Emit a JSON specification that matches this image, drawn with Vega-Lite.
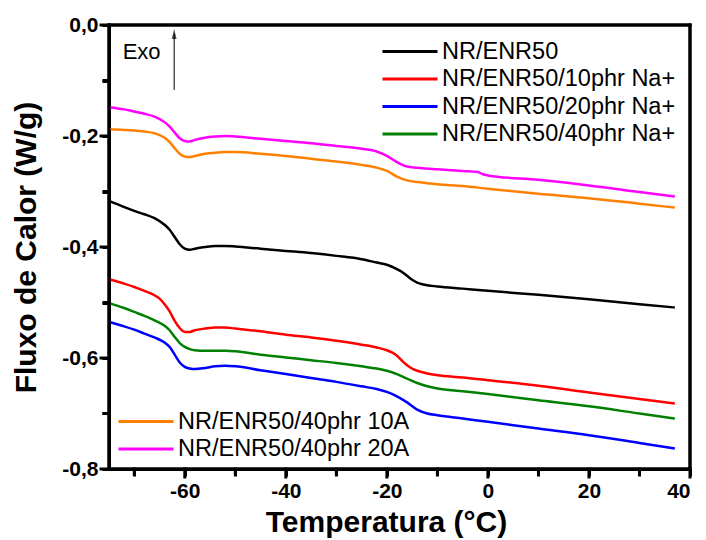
{
  "$schema": "https://vega.github.io/schema/vega-lite/v6.json",
  "width": 581,
  "height": 444,
  "autosize": {"type": "none"},
  "padding": {"left": 109, "top": 25, "right": 16, "bottom": 71},
  "config": {
    "view": {"stroke": "black", "strokeWidth": 3},
    "font": "Liberation Sans",
    "axis": {
      "grid": false,
      "domainColor": "black",
      "domainWidth": 3,
      "tickColor": "black",
      "tickWidth": 3,
      "tickSize": 7,
      "labelColor": "black",
      "titleColor": "black",
      "labelFont": "Liberation Sans",
      "labelFontWeight": "bold",
      "labelFontSize": 21,
      "titleFont": "Liberation Sans",
      "titleFontWeight": "bold",
      "titleFontSize": 30
    },
    "legend": {
      "title": null,
      "symbolType": "M-1,0H4",
      "symbolStrokeWidth": 3,
      "symbolSize": 484,
      "labelFont": "Liberation Sans",
      "labelFontSize": 23.5,
      "labelColor": "black",
      "labelOffset": 36,
      "labelLimit": 400,
      "rowPadding": 3.5,
      "padding": 0
    }
  },
  "datasets": {
    "a": [
      {"s": "NR/ENR50", "t": -75, "q": -0.317},
      {"s": "NR/ENR50", "t": -72, "q": -0.328},
      {"s": "NR/ENR50", "t": -70, "q": -0.335},
      {"s": "NR/ENR50", "t": -68, "q": -0.341},
      {"s": "NR/ENR50", "t": -66, "q": -0.348},
      {"s": "NR/ENR50", "t": -64, "q": -0.36},
      {"s": "NR/ENR50", "t": -63, "q": -0.369},
      {"s": "NR/ENR50", "t": -62, "q": -0.382},
      {"s": "NR/ENR50", "t": -61, "q": -0.395},
      {"s": "NR/ENR50", "t": -60, "q": -0.403},
      {"s": "NR/ENR50", "t": -59, "q": -0.405},
      {"s": "NR/ENR50", "t": -58, "q": -0.403},
      {"s": "NR/ENR50", "t": -56, "q": -0.4},
      {"s": "NR/ENR50", "t": -54, "q": -0.398},
      {"s": "NR/ENR50", "t": -52, "q": -0.398},
      {"s": "NR/ENR50", "t": -50, "q": -0.399},
      {"s": "NR/ENR50", "t": -45, "q": -0.403},
      {"s": "NR/ENR50", "t": -40, "q": -0.407},
      {"s": "NR/ENR50", "t": -35, "q": -0.411},
      {"s": "NR/ENR50", "t": -30, "q": -0.416},
      {"s": "NR/ENR50", "t": -25, "q": -0.422},
      {"s": "NR/ENR50", "t": -22, "q": -0.428},
      {"s": "NR/ENR50", "t": -20, "q": -0.432},
      {"s": "NR/ENR50", "t": -18, "q": -0.44},
      {"s": "NR/ENR50", "t": -17, "q": -0.445},
      {"s": "NR/ENR50", "t": -16, "q": -0.452},
      {"s": "NR/ENR50", "t": -15, "q": -0.459},
      {"s": "NR/ENR50", "t": -14, "q": -0.464},
      {"s": "NR/ENR50", "t": -13, "q": -0.467},
      {"s": "NR/ENR50", "t": -12, "q": -0.469},
      {"s": "NR/ENR50", "t": -10, "q": -0.471},
      {"s": "NR/ENR50", "t": -5, "q": -0.475},
      {"s": "NR/ENR50", "t": 0, "q": -0.479},
      {"s": "NR/ENR50", "t": 10, "q": -0.486},
      {"s": "NR/ENR50", "t": 20, "q": -0.494},
      {"s": "NR/ENR50", "t": 30, "q": -0.503},
      {"s": "NR/ENR50", "t": 37, "q": -0.509},

      {"s": "NR/ENR50/10phr Na+", "t": -75, "q": -0.458},
      {"s": "NR/ENR50/10phr Na+", "t": -72, "q": -0.466},
      {"s": "NR/ENR50/10phr Na+", "t": -70, "q": -0.472},
      {"s": "NR/ENR50/10phr Na+", "t": -68, "q": -0.479},
      {"s": "NR/ENR50/10phr Na+", "t": -66, "q": -0.487},
      {"s": "NR/ENR50/10phr Na+", "t": -65, "q": -0.493},
      {"s": "NR/ENR50/10phr Na+", "t": -64, "q": -0.503},
      {"s": "NR/ENR50/10phr Na+", "t": -63, "q": -0.516},
      {"s": "NR/ENR50/10phr Na+", "t": -62, "q": -0.533},
      {"s": "NR/ENR50/10phr Na+", "t": -61, "q": -0.546},
      {"s": "NR/ENR50/10phr Na+", "t": -60, "q": -0.553},
      {"s": "NR/ENR50/10phr Na+", "t": -59, "q": -0.553},
      {"s": "NR/ENR50/10phr Na+", "t": -58, "q": -0.55},
      {"s": "NR/ENR50/10phr Na+", "t": -56, "q": -0.547},
      {"s": "NR/ENR50/10phr Na+", "t": -54, "q": -0.545},
      {"s": "NR/ENR50/10phr Na+", "t": -52, "q": -0.545},
      {"s": "NR/ENR50/10phr Na+", "t": -50, "q": -0.547},
      {"s": "NR/ENR50/10phr Na+", "t": -45, "q": -0.552},
      {"s": "NR/ENR50/10phr Na+", "t": -40, "q": -0.558},
      {"s": "NR/ENR50/10phr Na+", "t": -35, "q": -0.563},
      {"s": "NR/ENR50/10phr Na+", "t": -30, "q": -0.569},
      {"s": "NR/ENR50/10phr Na+", "t": -25, "q": -0.576},
      {"s": "NR/ENR50/10phr Na+", "t": -22, "q": -0.581},
      {"s": "NR/ENR50/10phr Na+", "t": -20, "q": -0.586},
      {"s": "NR/ENR50/10phr Na+", "t": -19, "q": -0.59},
      {"s": "NR/ENR50/10phr Na+", "t": -18, "q": -0.596},
      {"s": "NR/ENR50/10phr Na+", "t": -17, "q": -0.605},
      {"s": "NR/ENR50/10phr Na+", "t": -16, "q": -0.613},
      {"s": "NR/ENR50/10phr Na+", "t": -15, "q": -0.619},
      {"s": "NR/ENR50/10phr Na+", "t": -14, "q": -0.623},
      {"s": "NR/ENR50/10phr Na+", "t": -12, "q": -0.628},
      {"s": "NR/ENR50/10phr Na+", "t": -10, "q": -0.631},
      {"s": "NR/ENR50/10phr Na+", "t": -5, "q": -0.635},
      {"s": "NR/ENR50/10phr Na+", "t": 0, "q": -0.64},
      {"s": "NR/ENR50/10phr Na+", "t": 10, "q": -0.65},
      {"s": "NR/ENR50/10phr Na+", "t": 20, "q": -0.662},
      {"s": "NR/ENR50/10phr Na+", "t": 30, "q": -0.674},
      {"s": "NR/ENR50/10phr Na+", "t": 37, "q": -0.682},

      {"s": "NR/ENR50/20phr Na+", "t": -75, "q": -0.535},
      {"s": "NR/ENR50/20phr Na+", "t": -72, "q": -0.543},
      {"s": "NR/ENR50/20phr Na+", "t": -70, "q": -0.549},
      {"s": "NR/ENR50/20phr Na+", "t": -68, "q": -0.556},
      {"s": "NR/ENR50/20phr Na+", "t": -66, "q": -0.563},
      {"s": "NR/ENR50/20phr Na+", "t": -64, "q": -0.572},
      {"s": "NR/ENR50/20phr Na+", "t": -63, "q": -0.58},
      {"s": "NR/ENR50/20phr Na+", "t": -62, "q": -0.594},
      {"s": "NR/ENR50/20phr Na+", "t": -61, "q": -0.608},
      {"s": "NR/ENR50/20phr Na+", "t": -60, "q": -0.616},
      {"s": "NR/ENR50/20phr Na+", "t": -59, "q": -0.619},
      {"s": "NR/ENR50/20phr Na+", "t": -58, "q": -0.62},
      {"s": "NR/ENR50/20phr Na+", "t": -56, "q": -0.618},
      {"s": "NR/ENR50/20phr Na+", "t": -54, "q": -0.615},
      {"s": "NR/ENR50/20phr Na+", "t": -52, "q": -0.614},
      {"s": "NR/ENR50/20phr Na+", "t": -50, "q": -0.615},
      {"s": "NR/ENR50/20phr Na+", "t": -45, "q": -0.622},
      {"s": "NR/ENR50/20phr Na+", "t": -40, "q": -0.629},
      {"s": "NR/ENR50/20phr Na+", "t": -35, "q": -0.636},
      {"s": "NR/ENR50/20phr Na+", "t": -30, "q": -0.643},
      {"s": "NR/ENR50/20phr Na+", "t": -25, "q": -0.651},
      {"s": "NR/ENR50/20phr Na+", "t": -22, "q": -0.656},
      {"s": "NR/ENR50/20phr Na+", "t": -20, "q": -0.661},
      {"s": "NR/ENR50/20phr Na+", "t": -18, "q": -0.669},
      {"s": "NR/ENR50/20phr Na+", "t": -16, "q": -0.68},
      {"s": "NR/ENR50/20phr Na+", "t": -14, "q": -0.693},
      {"s": "NR/ENR50/20phr Na+", "t": -12, "q": -0.7},
      {"s": "NR/ENR50/20phr Na+", "t": -10, "q": -0.703},
      {"s": "NR/ENR50/20phr Na+", "t": -5, "q": -0.709},
      {"s": "NR/ENR50/20phr Na+", "t": 0, "q": -0.715},
      {"s": "NR/ENR50/20phr Na+", "t": 10, "q": -0.727},
      {"s": "NR/ENR50/20phr Na+", "t": 20, "q": -0.739},
      {"s": "NR/ENR50/20phr Na+", "t": 30, "q": -0.753},
      {"s": "NR/ENR50/20phr Na+", "t": 37, "q": -0.763},

      {"s": "NR/ENR50/40phr Na+", "t": -75, "q": -0.501},
      {"s": "NR/ENR50/40phr Na+", "t": -72, "q": -0.51},
      {"s": "NR/ENR50/40phr Na+", "t": -70, "q": -0.517},
      {"s": "NR/ENR50/40phr Na+", "t": -68, "q": -0.524},
      {"s": "NR/ENR50/40phr Na+", "t": -66, "q": -0.532},
      {"s": "NR/ENR50/40phr Na+", "t": -64, "q": -0.542},
      {"s": "NR/ENR50/40phr Na+", "t": -63, "q": -0.55},
      {"s": "NR/ENR50/40phr Na+", "t": -62, "q": -0.562},
      {"s": "NR/ENR50/40phr Na+", "t": -61, "q": -0.573},
      {"s": "NR/ENR50/40phr Na+", "t": -60, "q": -0.58},
      {"s": "NR/ENR50/40phr Na+", "t": -59, "q": -0.584},
      {"s": "NR/ENR50/40phr Na+", "t": -58, "q": -0.586},
      {"s": "NR/ENR50/40phr Na+", "t": -56, "q": -0.587},
      {"s": "NR/ENR50/40phr Na+", "t": -54, "q": -0.587},
      {"s": "NR/ENR50/40phr Na+", "t": -52, "q": -0.587},
      {"s": "NR/ENR50/40phr Na+", "t": -50, "q": -0.588},
      {"s": "NR/ENR50/40phr Na+", "t": -45, "q": -0.594},
      {"s": "NR/ENR50/40phr Na+", "t": -40, "q": -0.599},
      {"s": "NR/ENR50/40phr Na+", "t": -35, "q": -0.604},
      {"s": "NR/ENR50/40phr Na+", "t": -30, "q": -0.609},
      {"s": "NR/ENR50/40phr Na+", "t": -25, "q": -0.615},
      {"s": "NR/ENR50/40phr Na+", "t": -22, "q": -0.619},
      {"s": "NR/ENR50/40phr Na+", "t": -20, "q": -0.623},
      {"s": "NR/ENR50/40phr Na+", "t": -18, "q": -0.629},
      {"s": "NR/ENR50/40phr Na+", "t": -16, "q": -0.637},
      {"s": "NR/ENR50/40phr Na+", "t": -14, "q": -0.645},
      {"s": "NR/ENR50/40phr Na+", "t": -12, "q": -0.651},
      {"s": "NR/ENR50/40phr Na+", "t": -10, "q": -0.655},
      {"s": "NR/ENR50/40phr Na+", "t": -5, "q": -0.66},
      {"s": "NR/ENR50/40phr Na+", "t": 0, "q": -0.665},
      {"s": "NR/ENR50/40phr Na+", "t": 10, "q": -0.676},
      {"s": "NR/ENR50/40phr Na+", "t": 20, "q": -0.687},
      {"s": "NR/ENR50/40phr Na+", "t": 30, "q": -0.7},
      {"s": "NR/ENR50/40phr Na+", "t": 37, "q": -0.709}
    ],
    "b": [
      {"s": "NR/ENR50/40phr 10A", "t": -75, "q": -0.188},
      {"s": "NR/ENR50/40phr 10A", "t": -72, "q": -0.189},
      {"s": "NR/ENR50/40phr 10A", "t": -70, "q": -0.19},
      {"s": "NR/ENR50/40phr 10A", "t": -68, "q": -0.192},
      {"s": "NR/ENR50/40phr 10A", "t": -66, "q": -0.195},
      {"s": "NR/ENR50/40phr 10A", "t": -64, "q": -0.203},
      {"s": "NR/ENR50/40phr 10A", "t": -63, "q": -0.211},
      {"s": "NR/ENR50/40phr 10A", "t": -62, "q": -0.222},
      {"s": "NR/ENR50/40phr 10A", "t": -61, "q": -0.232},
      {"s": "NR/ENR50/40phr 10A", "t": -60, "q": -0.237},
      {"s": "NR/ENR50/40phr 10A", "t": -59, "q": -0.238},
      {"s": "NR/ENR50/40phr 10A", "t": -58, "q": -0.236},
      {"s": "NR/ENR50/40phr 10A", "t": -56, "q": -0.232},
      {"s": "NR/ENR50/40phr 10A", "t": -54, "q": -0.23},
      {"s": "NR/ENR50/40phr 10A", "t": -52, "q": -0.229},
      {"s": "NR/ENR50/40phr 10A", "t": -50, "q": -0.229},
      {"s": "NR/ENR50/40phr 10A", "t": -45, "q": -0.232},
      {"s": "NR/ENR50/40phr 10A", "t": -40, "q": -0.236},
      {"s": "NR/ENR50/40phr 10A", "t": -35, "q": -0.241},
      {"s": "NR/ENR50/40phr 10A", "t": -30, "q": -0.246},
      {"s": "NR/ENR50/40phr 10A", "t": -25, "q": -0.252},
      {"s": "NR/ENR50/40phr 10A", "t": -22, "q": -0.257},
      {"s": "NR/ENR50/40phr 10A", "t": -20, "q": -0.263},
      {"s": "NR/ENR50/40phr 10A", "t": -18, "q": -0.273},
      {"s": "NR/ENR50/40phr 10A", "t": -16, "q": -0.28},
      {"s": "NR/ENR50/40phr 10A", "t": -14, "q": -0.283},
      {"s": "NR/ENR50/40phr 10A", "t": -12, "q": -0.285},
      {"s": "NR/ENR50/40phr 10A", "t": -10, "q": -0.287},
      {"s": "NR/ENR50/40phr 10A", "t": -5, "q": -0.29},
      {"s": "NR/ENR50/40phr 10A", "t": 0, "q": -0.295},
      {"s": "NR/ENR50/40phr 10A", "t": 10, "q": -0.304},
      {"s": "NR/ENR50/40phr 10A", "t": 20, "q": -0.312},
      {"s": "NR/ENR50/40phr 10A", "t": 30, "q": -0.322},
      {"s": "NR/ENR50/40phr 10A", "t": 37, "q": -0.329},

      {"s": "NR/ENR50/40phr 20A", "t": -75, "q": -0.148},
      {"s": "NR/ENR50/40phr 20A", "t": -72, "q": -0.152},
      {"s": "NR/ENR50/40phr 20A", "t": -70, "q": -0.156},
      {"s": "NR/ENR50/40phr 20A", "t": -68, "q": -0.16},
      {"s": "NR/ENR50/40phr 20A", "t": -66, "q": -0.165},
      {"s": "NR/ENR50/40phr 20A", "t": -64, "q": -0.175},
      {"s": "NR/ENR50/40phr 20A", "t": -63, "q": -0.183},
      {"s": "NR/ENR50/40phr 20A", "t": -62, "q": -0.194},
      {"s": "NR/ENR50/40phr 20A", "t": -61, "q": -0.204},
      {"s": "NR/ENR50/40phr 20A", "t": -60, "q": -0.209},
      {"s": "NR/ENR50/40phr 20A", "t": -59, "q": -0.21},
      {"s": "NR/ENR50/40phr 20A", "t": -58, "q": -0.207},
      {"s": "NR/ENR50/40phr 20A", "t": -56, "q": -0.203},
      {"s": "NR/ENR50/40phr 20A", "t": -54, "q": -0.201},
      {"s": "NR/ENR50/40phr 20A", "t": -52, "q": -0.2},
      {"s": "NR/ENR50/40phr 20A", "t": -50, "q": -0.201},
      {"s": "NR/ENR50/40phr 20A", "t": -45, "q": -0.205},
      {"s": "NR/ENR50/40phr 20A", "t": -40, "q": -0.209},
      {"s": "NR/ENR50/40phr 20A", "t": -35, "q": -0.213},
      {"s": "NR/ENR50/40phr 20A", "t": -30, "q": -0.218},
      {"s": "NR/ENR50/40phr 20A", "t": -25, "q": -0.223},
      {"s": "NR/ENR50/40phr 20A", "t": -22, "q": -0.228},
      {"s": "NR/ENR50/40phr 20A", "t": -20, "q": -0.236},
      {"s": "NR/ENR50/40phr 20A", "t": -18, "q": -0.247},
      {"s": "NR/ENR50/40phr 20A", "t": -16, "q": -0.255},
      {"s": "NR/ENR50/40phr 20A", "t": -14, "q": -0.257},
      {"s": "NR/ENR50/40phr 20A", "t": -10, "q": -0.26},
      {"s": "NR/ENR50/40phr 20A", "t": -5, "q": -0.263},
      {"s": "NR/ENR50/40phr 20A", "t": -2, "q": -0.265},
      {"s": "NR/ENR50/40phr 20A", "t": -1, "q": -0.269},
      {"s": "NR/ENR50/40phr 20A", "t": 0, "q": -0.271},
      {"s": "NR/ENR50/40phr 20A", "t": 10, "q": -0.279},
      {"s": "NR/ENR50/40phr 20A", "t": 20, "q": -0.289},
      {"s": "NR/ENR50/40phr 20A", "t": 30, "q": -0.301},
      {"s": "NR/ENR50/40phr 20A", "t": 37, "q": -0.309}
    ],
    "exo": [{"t": -72.3, "q": -0.062, "label": "Exo"}],
    "arrow": [{"t": -62.1, "q": -0.117, "q2": -0.016}],
    "head": [{"t": -62.1, "q": -0.016}],
    "frame": [
      {"t": -75, "q": -0.8, "t2": -75, "q2": 0},
      {"t": 40, "q": -0.8, "t2": 40, "q2": 0},
      {"t": -75, "q": 0, "t2": 40, "q2": 0},
      {"t": -75, "q": -0.8, "t2": 40, "q2": -0.8},
      {"t": -70, "q": -0.8, "t2": -70, "q2": -0.809},
      {"t": -60, "q": -0.8, "t2": -60, "q2": -0.8144},
      {"t": -50, "q": -0.8, "t2": -50, "q2": -0.809},
      {"t": -40, "q": -0.8, "t2": -40, "q2": -0.8144},
      {"t": -30, "q": -0.8, "t2": -30, "q2": -0.809},
      {"t": -20, "q": -0.8, "t2": -20, "q2": -0.8144},
      {"t": -10, "q": -0.8, "t2": -10, "q2": -0.809},
      {"t": 0, "q": -0.8, "t2": 0, "q2": -0.8144},
      {"t": 10, "q": -0.8, "t2": 10, "q2": -0.809},
      {"t": 20, "q": -0.8, "t2": 20, "q2": -0.8144},
      {"t": 30, "q": -0.8, "t2": 30, "q2": -0.809},
      {"t": 40, "q": -0.8, "t2": 40, "q2": -0.8144},
      {"t": -75, "q": -0.8, "t2": -76.58, "q2": -0.8},
      {"t": -75, "q": -0.7, "t2": -75.99, "q2": -0.7},
      {"t": -75, "q": -0.6, "t2": -76.58, "q2": -0.6},
      {"t": -75, "q": -0.5, "t2": -75.99, "q2": -0.5},
      {"t": -75, "q": -0.4, "t2": -76.58, "q2": -0.4},
      {"t": -75, "q": -0.3, "t2": -75.99, "q2": -0.3},
      {"t": -75, "q": -0.2, "t2": -76.58, "q2": -0.2},
      {"t": -75, "q": -0.1, "t2": -75.99, "q2": -0.1},
      {"t": -75, "q": 0, "t2": -76.58, "q2": 0}
    ]
  },
  "layer": [
    {
      "data": {"name": "a"},
      "mark": {"type": "line", "strokeWidth": 2.5, "interpolate": "monotone"},
      "encoding": {
        "x": {
          "field": "t", "type": "quantitative",
          "scale": {"domain": [-75, 40], "nice": false, "zero": false},
          "axis": {
            "title": "Temperatura (°C)",
            "titleX": 277,
            "values": [-70, -60, -50, -40, -30, -20, -10, 0, 10, 20, 30, 40],
            "labelExpr": "round(datum.value/10)%2==0 ? toString(datum.value) : ''",
            "labelPadding": 4,
            "titlePadding": 6
          }
        },
        "y": {
          "field": "q", "type": "quantitative",
          "scale": {"domain": [-0.8, 0], "nice": false, "zero": false},
          "axis": {
            "title": "Fluxo de Calor (W/g)",
            "values": [-0.8, -0.7, -0.6, -0.5, -0.4, -0.3, -0.2, -0.1, 0],
            "labelExpr": "round(datum.value*10)%2==0 ? ((datum.value < -0.001 ? '-' : '') + replace(format(abs(datum.value), '.1f'), '.', ',')) : ''",
            "labelPadding": 4,
            "titlePadding": 20
          }
        },
        "color": {
          "field": "s", "type": "nominal",
          "scale": {
            "domain": ["NR/ENR50", "NR/ENR50/10phr Na+", "NR/ENR50/20phr Na+", "NR/ENR50/40phr Na+"],
            "range": ["black", "red", "blue", "green"]
          },
          "legend": {"orient": "top-right", "offset": 14}
        }
      }
    },
    {
      "data": {"name": "b"},
      "mark": {"type": "line", "strokeWidth": 2.5, "interpolate": "monotone"},
      "encoding": {
        "x": {"field": "t", "type": "quantitative"},
        "y": {"field": "q", "type": "quantitative"},
        "color": {
          "field": "s", "type": "nominal",
          "scale": {
            "domain": ["NR/ENR50/40phr 10A", "NR/ENR50/40phr 20A"],
            "range": ["#ff8000", "#ff00ff"]
          },
          "legend": {"orient": "bottom-left", "offset": 8}
        }
      }
    },
    {
      "data": {"name": "exo"},
      "mark": {"type": "text", "align": "left", "baseline": "alphabetic", "fontSize": 22, "font": "Liberation Sans", "color": "black"},
      "encoding": {
        "x": {"field": "t", "type": "quantitative"},
        "y": {"field": "q", "type": "quantitative"},
        "text": {"field": "label"}
      }
    },
    {
      "data": {"name": "arrow"},
      "mark": {"type": "rule", "color": "black", "strokeWidth": 1},
      "encoding": {
        "x": {"field": "t", "type": "quantitative"},
        "y": {"field": "q", "type": "quantitative"},
        "y2": {"field": "q2"}
      }
    },
    {
      "data": {"name": "head"},
      "mark": {"type": "point", "shape": "M0,-1L0.45,1L-0.45,1Z", "filled": true, "color": "black", "size": 110},
      "encoding": {
        "x": {"field": "t", "type": "quantitative"},
        "y": {"field": "q", "type": "quantitative"}
      }
    },
    {
      "data": {"name": "frame"},
      "mark": {"type": "rule", "color": "black", "strokeWidth": 3, "strokeCap": "square", "clip": false},
      "encoding": {
        "x": {"field": "t", "type": "quantitative"},
        "y": {"field": "q", "type": "quantitative"},
        "x2": {"field": "t2"},
        "y2": {"field": "q2"}
      }
    }
  ],
  "resolve": {"scale": {"color": "independent"}}
}
